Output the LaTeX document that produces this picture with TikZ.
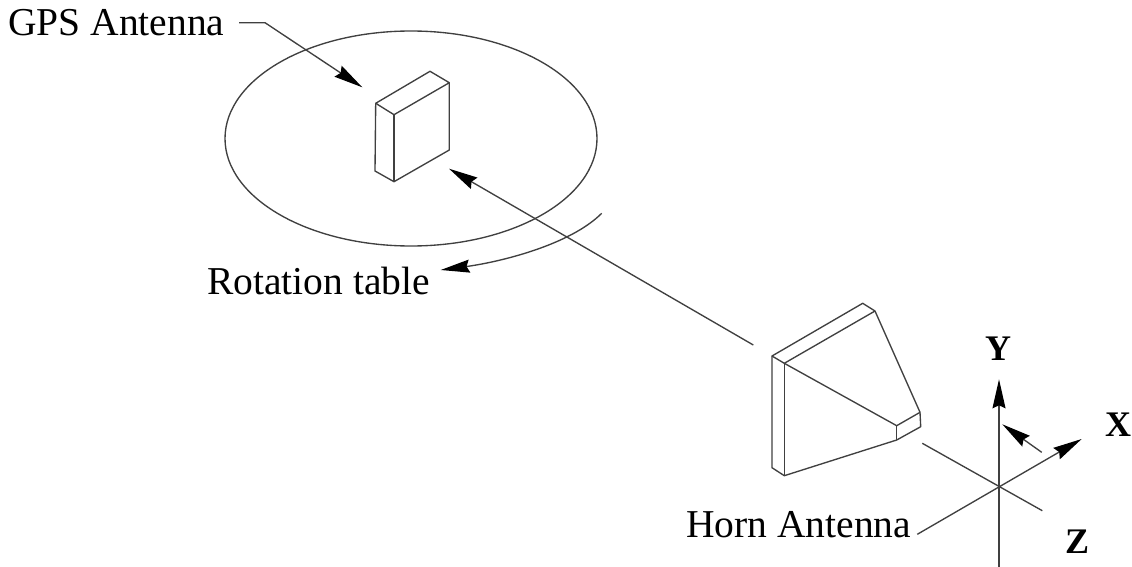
\documentclass[tikz,border=0pt]{standalone}
\usepackage{fontspec}
\setmainfont{Liberation Serif}
\usetikzlibrary{arrows.meta,shapes.geometric}
\tikzset{
  ln/.style={draw=black!75,line width=1.35pt,line join=round},
  arr/.style={ln,-{Stealth[length=29pt,width=13pt,inset=3pt,fill=black,color=black]}},
  lab/.style={inner sep=0pt,text=black,font=\fontsize{39.5}{42}\selectfont},
  axl/.style={inner sep=0pt,text=black,font=\fontsize{36}{38}\selectfont\bfseries}
}
\begin{document}
\begin{tikzpicture}[x=1pt,y=-1pt]
\useasboundingbox (0,0) rectangle (1132,567);
% labels
\node[lab,anchor=base west] (gps) at (8,36) {GPS Antenna};
\node[lab,anchor=base west] (rot) at (207,294) {Rotation table};
\node[lab,anchor=base west] (horn) at (686,537) {Horn Antenna};
\node[axl] (ylab) at (998,349) {Y};
\node[axl] (xlab) at (1118,425) {X};
\node[axl] (zlab) at (1077,541.5) {Z};
% table
\node[ln,ellipse,inner sep=0pt,minimum width=372pt,minimum height=215pt] (table) at (411,138.5) {};
% GPS block
\coordinate (a1) at (375.7,103.3);
\coordinate (a2) at (430,71.3);
\coordinate (a3) at (449.3,82.7);
\coordinate (a4) at (394,114.7);
\coordinate (a5) at (394,181.7);
\coordinate (a6) at (375,171);
\coordinate (a7) at (449.3,150);
\draw[ln] (a1)--(a2)--(a3)--(a4)--cycle;
\draw[ln] (a1)--(a6)--(a5)--(a7)--(a3);
\draw[ln] (a4)--(a5);
% GPS leader
\coordinate (g0) at (239,22.7);
\coordinate (g1) at (265,22.7);
\coordinate (g2) at (362.3,87.3);
\draw[arr] (g0)--(g1)--(g2);
% long arrow
\coordinate (l0) at (753.3,345);
\coordinate (l1) at (449,168.7);
\draw[arr] (l0)--(l1);
% rotation
\coordinate (r0) at (601.7,213.3);
\coordinate (r1) at (440.7,270);
\draw[arr] (r0) .. controls (570,245) and (500,262) .. (r1);
% horn
\coordinate (A) at (772,356);
\coordinate (B) at (862.7,303.3);
\coordinate (C) at (875,311);
\coordinate (D) at (784.3,363.3);
\coordinate (E) at (920,412.3);
\coordinate (F) at (920.7,426.7);
\coordinate (G) at (896.7,440);
\coordinate (H) at (896.7,425.7);
\coordinate (I) at (784.3,475.7);
\coordinate (J) at (772,467.7);
\draw[ln] (A)--(B)--(C)--(E)--(F)--(G)--(I)--(J)--cycle;
\draw[ln] (A)--(D)--(C);
\draw[ln] (D)--(I);
\draw[ln] (D)--(H)--(E);
\draw[ln] (H)--(G);
% axes
\coordinate (yt) at (999,379.3);
\coordinate (yb) at (999,567);
\coordinate (xt) at (1081.7,439);
\coordinate (h0) at (917.3,534.3);
\coordinate (z0) at (922.3,443.3);
\coordinate (z1) at (1042.3,510.7);
\coordinate (s0) at (1041.7,452.3);
\coordinate (s1) at (1002.3,424.3);
\draw[arr] (yb)--(yt);
\draw[arr] (h0)--(xt);
\draw[ln] (z0)--(z1);
\draw[arr] (s0)--(s1);
\end{tikzpicture}
\end{document}
